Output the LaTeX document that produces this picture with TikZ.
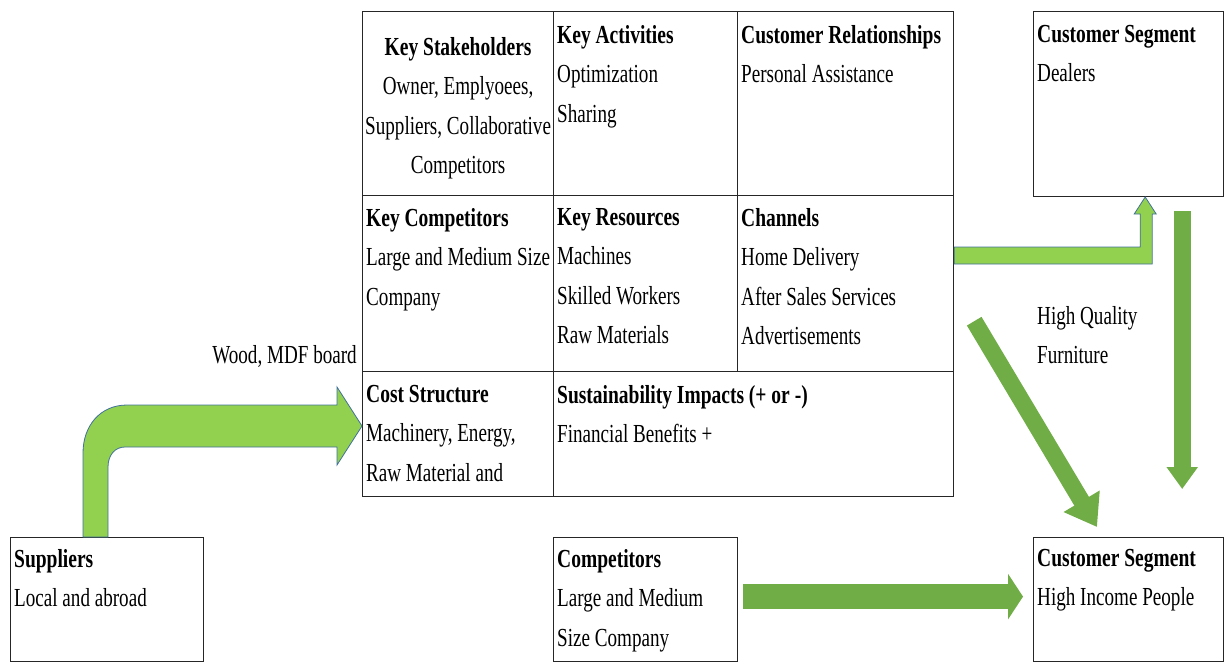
\documentclass[tikz,border=0pt]{standalone}
\usepackage{fontspec}
\setmainfont{Liberation Serif}[FakeStretch=0.735,BoldFeatures={FakeStretch=0.75}]
\usetikzlibrary{arrows.meta,calc,positioning}
\definecolor{lightgrn}{HTML}{92D050}
\definecolor{darkgrn}{HTML}{70AD47}
\definecolor{edgeblue}{HTML}{41719C}

\begin{document}
\begin{tikzpicture}[x=1pt,y=-1pt,
	cell/.style 2 args={draw=black!85,line width=1.2pt,anchor=north west,minimum width=#1,minimum height=#2,inner sep=0pt},
	txt/.style={anchor=north west,align=left,inner sep=0pt,font=\fontsize{26}{39.5}\selectfont},
	bent/.style={fill=lightgrn,draw=edgeblue,line width=0.8pt},
	fat/.style={draw=darkgrn,line width=#1}]
	\useasboundingbox (0,0) rectangle (1225,662);
	
	%CANVAS
	\node[cell={191}{184}] (ks) at (362,11) {};
	\node[cell={184}{184}] (ka) at (553,11) {};
	\node[cell={216}{184}] (cr) at (737,11) {};
	\node[cell={191}{176}] (kc) at (362,195) {};
	\node[cell={184}{176}] (kr) at (553,195) {};
	\node[cell={216}{176}] (ch) at (737,195) {};
	\node[cell={191}{125}] (cs) at (362,371) {};
	\node[cell={400}{125}] (si) at (553,371) {};
	
	\node[txt,anchor=north,align=center] (ksT) at ($(ks.north)+(0,26)$) {\textbf{Key Stakeholders}\\Owner, Emplyoees,\\Suppliers, Collaborative\\Competitors};
	\node[txt] (kaT) at ($(ka.north west)+(4,14)$) {\textbf{Key Activities}\\Optimization\\Sharing};
	\node[txt] (crT) at ($(cr.north west)+(4,14)$) {\textbf{Customer Relationships}\\Personal Assistance};
	\node[txt] (kcT) at ($(kc.north west)+(4,13)$) {\textbf{Key Competitors}\\Large and Medium Size\\Company};
	\node[txt] (krT) at ($(kr.north west)+(4,13)$) {\textbf{Key Resources}\\Machines\\Skilled Workers\\Raw Materials};
	\node[txt] (chT) at ($(ch.north west)+(4,13)$) {\textbf{Channels}\\Home Delivery\\After Sales Services\\Advertisements};
	\node[txt] (csT) at ($(cs.north west)+(4,14)$) {\textbf{Cost Structure}\\Machinery, Energy,\\Raw Material and};
	\node[txt] (siT) at ($(si.north west)+(4,14)$) {\textbf{Sustainability Impacts (+ or -)}\\Financial Benefits +};
	
	%OUTSIDE BOXES
	\node[cell={190}{185}] (seg1) at (1033,11) {};
	\node[cell={193}{124}] (sup) at (10,537) {};
	\node[cell={184}{124}] (comp) at (553,537) {};
	\node[cell={190}{124}] (seg2) at (1033,537) {};
	
	\node[txt] (seg1T) at ($(seg1.north west)+(4,14)$) {\textbf{Customer Segment}\\Dealers};
	\node[txt] (supT) at ($(sup.north west)+(4,12)$) {\textbf{Suppliers}\\Local and abroad};
	\node[txt] (compT) at ($(comp.north west)+(4,12)$) {\textbf{Competitors}\\Large and Medium\\Size Company};
	\node[txt] (seg2T) at ($(seg2.north west)+(4,12)$) {\textbf{Customer Segment}\\High Income People};
	
	\node[txt,anchor=north east] (wood) at ($(kc.south west)+(-5,-27)$) {Wood, MDF board};
	\node[txt] (hq) at ($(seg1.south west)+(4,109)$) {High Quality\\Furniture};
	
	%FLOWS
	\begin{scope}[shift={(sup.north west)}]
		\draw[bent] (73,0) -- (73,-84) .. controls (73,-111) and (90,-132) .. (117,-132) -- (327,-132) -- (327,-150) -- (352,-111) -- (327,-72) -- (327,-90) -- (115,-90) .. controls (105,-90) and (98,-82) .. (98,-70) -- (98,0) -- cycle;
	\end{scope}
	\begin{scope}[shift={(ch.north east)}]
		\draw[bent] (0,52) -- (186,52) -- (186,19) -- (180,19) -- (191,2) -- (202,19) -- (198,19) -- (198,69) -- (0,69) -- cycle;
	\end{scope}
	
	\draw[fat=17pt,-{Triangle[width=30pt,length=22pt]}] ($(seg1.south east)+(-42,14)$) -- ($(seg2.north east)+(-42,-48)$);
	\draw[fat=17pt,-{Triangle[width=40pt,length=30pt]}] ($(ch.south east)+(20,-51)$) -- ($(seg2.north west)+(64,-10)$);
	\draw[fat=25pt,-{Triangle[width=45pt,length=15pt]}] ($(comp.east)+(5,-3)$) -- ($(seg2.west)+(-10,-3)$);
\end{tikzpicture}
\end{document}
